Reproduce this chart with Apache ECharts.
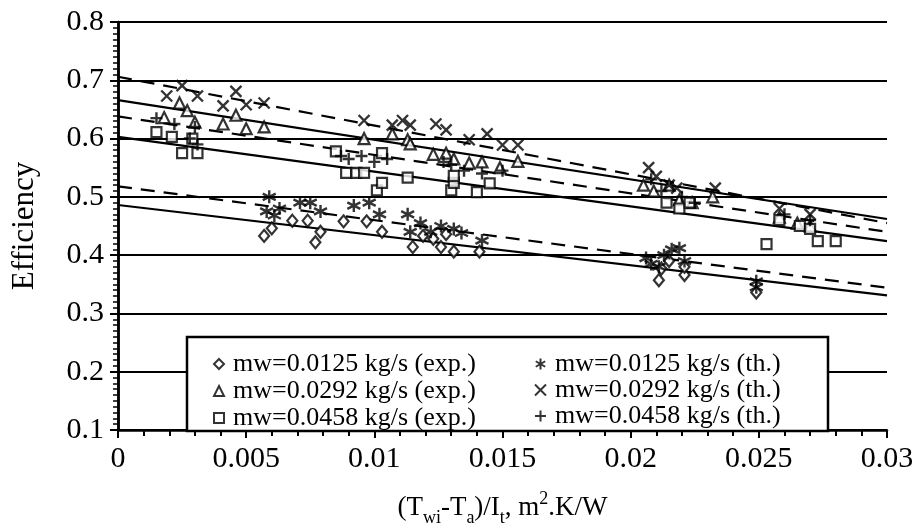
<!DOCTYPE html>
<html><head><meta charset="utf-8">
<script src="https://cdn.jsdelivr.net/npm/echarts@6/dist/echarts.min.js"></script>
<style>html,body{margin:0;padding:0;background:#fff}#c{width:917px;height:532px}</style>
</head><body><div id="c"></div>
<script>
var xTickLabels = ['0','0.005','0.01','0.015','0.02','0.025','0.03'];
var yTickLabels = ['0.1','0.2','0.3','0.4','0.5','0.6','0.7','0.8'];
var names = ['mw=0.0125 kg/s (exp.)','mw=0.0292 kg/s (exp.)','mw=0.0458 kg/s (exp.)',
             'mw=0.0125 kg/s (th.)','mw=0.0292 kg/s (th.)','mw=0.0458 kg/s (th.)'];
var exp0125 = [[0.0057,0.433],[0.0060,0.446],[0.0068,0.459],[0.0074,0.459],[0.0077,0.422],[0.0079,0.44],[0.0088,0.458],[0.0097,0.458],[0.0103,0.44],[0.0115,0.414],[0.0119,0.433],[0.0123,0.428],[0.0126,0.414],[0.0128,0.436],[0.0131,0.406],[0.0141,0.406],
  [0.0211,0.357],[0.0212,0.377],[0.0215,0.39],[0.0221,0.366],[0.0221,0.38],[0.0249,0.336]];
var th0125 = [[0.0058,0.475],[0.0059,0.50],[0.0061,0.468],[0.0063,0.48],[0.0071,0.49],[0.0075,0.49],[0.0079,0.475],[0.0092,0.485],[0.0098,0.49],[0.0102,0.47],[0.0113,0.47],[0.0114,0.44],[0.0118,0.455],[0.0122,0.44],[0.0126,0.45],[0.0131,0.445],[0.0134,0.438],[0.0142,0.425],
  [0.0206,0.395],[0.0208,0.385],[0.0211,0.38],[0.0213,0.40],[0.0216,0.41],[0.0219,0.412],[0.0221,0.39],[0.0249,0.355],[0.0249,0.345]];
var exp0292 = [[0.0018,0.636],[0.0024,0.661],[0.0027,0.648],[0.0030,0.628],[0.0041,0.625],[0.0046,0.64],[0.0050,0.617],[0.0057,0.62],[0.0096,0.60],[0.0107,0.608],[0.0113,0.598],[0.0114,0.591],[0.0123,0.573],[0.0128,0.575],[0.0131,0.565],[0.0137,0.558],[0.0142,0.56],[0.0149,0.55],[0.0156,0.561],
  [0.0205,0.52],[0.0209,0.51],[0.0215,0.52],[0.0219,0.495],[0.0224,0.49],[0.0232,0.50],[0.0258,0.465],[0.0265,0.455],[0.027,0.45]];
var th0292 = [[0.0019,0.673],[0.0025,0.691],[0.0031,0.673],[0.0041,0.656],[0.0046,0.681],[0.0050,0.658],[0.0057,0.661],[0.0096,0.631],[0.0107,0.623],[0.0111,0.631],[0.0114,0.623],[0.0124,0.625],[0.0128,0.615],[0.0137,0.598],[0.0144,0.608],[0.015,0.589],[0.0156,0.589],
  [0.0207,0.55],[0.021,0.535],[0.0215,0.52],[0.0218,0.515],[0.0233,0.515],[0.0258,0.48],[0.027,0.47]];
var exp0458 = [[0.0015,0.611],[0.0021,0.603],[0.0025,0.575],[0.0029,0.60],[0.0031,0.575],[0.0085,0.578],[0.0089,0.541],[0.0093,0.541],[0.0096,0.541],[0.0101,0.511],[0.0103,0.524],[0.0103,0.575],[0.0113,0.533],[0.0130,0.511],[0.0131,0.524],[0.0131,0.536],[0.014,0.508],[0.0145,0.523],
  [0.0214,0.49],[0.0219,0.48],[0.0223,0.49],[0.0253,0.419],[0.0258,0.46],[0.0266,0.45],[0.027,0.445],[0.0273,0.424],[0.028,0.424]];
var th0458 = [[0.0015,0.635],[0.0022,0.625],[0.0028,0.60],[0.003,0.62],[0.0031,0.59],[0.0087,0.57],[0.009,0.565],[0.0095,0.57],[0.01,0.56],[0.0105,0.565],[0.0127,0.56],[0.013,0.555],[0.0135,0.545],[0.0142,0.54],[0.015,0.545],
  [0.0208,0.53],[0.0212,0.51],[0.022,0.50],[0.0225,0.49],[0.026,0.47],[0.027,0.46]];
// fitted lines (endpoints)
var fitExp0125 = [[0,0.486],[0.03,0.331]];
var fitTh0125  = [[0,0.518],[0.03,0.344]];
var fitExp0292 = [[0,0.666],[0.03,0.462]];
var fitTh0292  = [[0,0.706],[0.03,0.455]];
var fitExp0458 = [[0,0.603],[0.03,0.424]];
var fitTh0458  = [[0,0.638],[0.03,0.440]];

var FONT = 'Liberation Serif';
var chart = echarts.init(document.getElementById('c'), null, {renderer:'canvas'});
var open = {color:'#fff', borderColor:'#000', borderWidth:2.2};
var stroke = {color:'rgba(0,0,0,0)', borderColor:'#000', borderWidth:2.4};
var P_STAR = 'path://M5,0L5,10M0.7,2.5L9.3,7.5M9.3,2.5L0.7,7.5';
var P_X = 'path://M0,0L10,10M10,0L0,10';
var P_PLUS = 'path://M5,0L5,10M0,5L10,5';
function sc(name, data, sym, size, st){
  return {type:'scatter', name:name, data:data, symbol:sym, symbolSize:size, itemStyle:st, z:4, silent:true};
}
function ln(data, dashed){
  return {type:'line', data:data, symbol:'none', silent:true, z:3,
    lineStyle:{color:'#000', width:2.2, type: dashed ? [14,9] : 'solid'}};
}
var axisCommon = {
  axisLine:{show:true, onZero:false, lineStyle:{color:'#000', width:2.5}},
  axisTick:{show:true, inside:false, length:8, lineStyle:{color:'#000', width:2}},
  axisLabel:{color:'#000', fontFamily:FONT, fontSize:30},
  nameTextStyle:{color:'#000', fontFamily:FONT}
};
var legendText = {color:'#000', fontFamily:FONT, fontSize:26, lineHeight:25, padding:[0,0,0,4]};
chart.setOption({
  animation:false,
  backgroundColor:'#fff',
  grid:{left:118, right:30, top:22, bottom:91, containLabel:false},
  xAxis:Object.assign({}, axisCommon, {
    type:'value', min:0, max:0.03, interval:0.005,
    minorTick:{show:true, splitNumber:5, length:6, lineStyle:{color:'#000', width:2}},
    axisLabel:{color:'#000', fontFamily:FONT, fontSize:30, margin:14,
      formatter:function(v){ return xTickLabels[Math.round(v/0.005)]; }},
    splitLine:{show:false},
    name:'{p|(T}{s|wi}{p|-T}{s|a}{p|)/I}{s|t}{p|, m}{u|2}{p|.K/W}',
    nameLocation:'middle', nameGap:60,
    nameTextStyle:{color:'#000', fontFamily:FONT, fontSize:27,
      rich:{p:{fontFamily:FONT, fontSize:27, color:'#000', verticalAlign:'bottom'},
            s:{fontFamily:FONT, fontSize:18, color:'#000', verticalAlign:'bottom', padding:[0,0,-6,0]},
            u:{fontFamily:FONT, fontSize:18, color:'#000', verticalAlign:'bottom', padding:[0,0,13,0]}}}
  }),
  yAxis:[Object.assign({}, axisCommon, {
    type:'value', min:0.1, max:0.8, interval:0.1,
    minorTick:{show:true, splitNumber:10, length:5, lineStyle:{color:'#000', width:1.5}},
    axisLabel:{color:'#000', fontFamily:FONT, fontSize:30, margin:14,
      formatter:function(v){ return yTickLabels[Math.round((v-0.1)/0.1)]; }},
    splitLine:{show:true, lineStyle:{color:'#000', width:2}},
    name:'Efficiency', nameLocation:'middle', nameGap:78,
    nameTextStyle:{color:'#000', fontFamily:FONT, fontSize:31}
  }),{
    type:'value', min:0.1, max:0.8, interval:0.1, position:'right',
    axisLine:{show:true, lineStyle:{color:'#000', width:2.5}},
    axisTick:{show:false}, axisLabel:{show:false}, splitLine:{show:false}
  }],
  legend:[{
    data:[names[0],names[1],names[2]], orient:'vertical', left:208, top:346,
    itemWidth:10, itemHeight:10, itemGap:1, z:10, selectedMode:false,
    textStyle:legendText
  },{
    data:[names[3],names[4],names[5]], orient:'vertical', left:529, top:346,
    itemWidth:11, itemHeight:11, itemGap:0, z:10, selectedMode:false,
    textStyle:legendText
  }],
  graphic:[{type:'rect', shape:{x:187, y:337, width:641, height:94}, z:8,
    style:{fill:'#fff', stroke:'#000', lineWidth:2.5}}],
  series:[
    ln(fitExp0125,false), ln(fitTh0125,true),
    ln(fitExp0292,false), ln(fitTh0292,true),
    ln(fitExp0458,false), ln(fitTh0458,true),
    sc(names[0], exp0125, 'diamond', [10,12], open),
    sc(names[1], exp0292, 'triangle', 11, open),
    sc(names[2], exp0458, 'rect', 10, open),
    sc(names[3], th0125, P_STAR, 13, stroke),
    sc(names[4], th0292, P_X, 11, stroke),
    sc(names[5], th0458, P_PLUS, 12, stroke)
  ]
});
</script></body></html>
